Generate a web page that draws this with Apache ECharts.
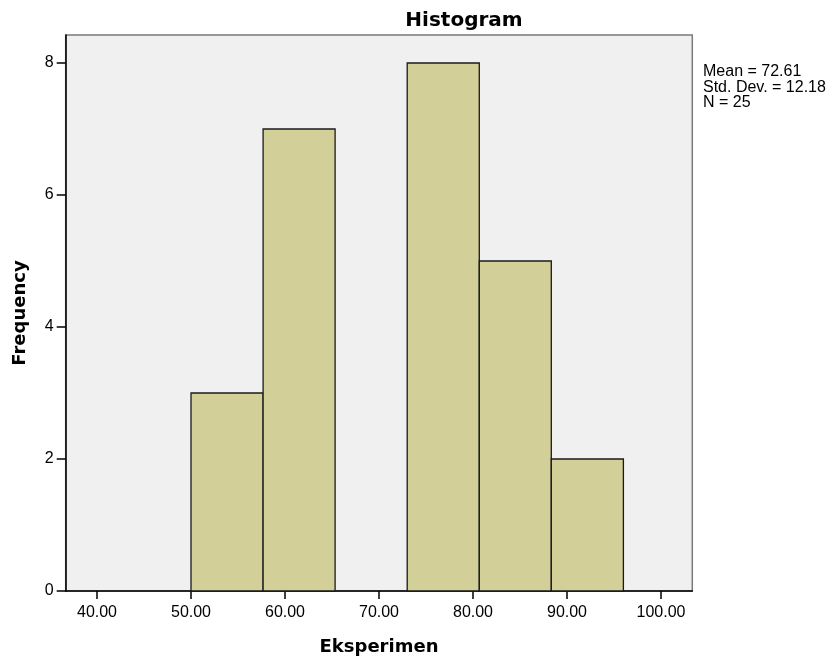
<!DOCTYPE html>
<html>
<head>
<meta charset="utf-8">
<script src="https://cdn.jsdelivr.net/npm/echarts@6/dist/echarts.min.js"></script>
<style>
html,body{margin:0;padding:0;background:#fff;}
#chart{width:834px;height:661px;}
</style>
</head>
<body>
<div id="chart"></div>
<script>
// Histogram data (bins)
const binStarts = [50.00, 57.67, 65.33, 73.00, 80.67, 88.33];
const binEnds   = [57.67, 65.33, 73.00, 80.67, 88.33, 96.00];
const counts    = [3, 7, 0, 8, 5, 2];
const xTickValues = [40, 50, 60, 70, 80, 90, 100];
const yTickValues = [0, 2, 4, 6, 8];
const statsLines = ['Mean = 72.61', 'Std. Dev. = 12.18', 'N = 25'];
const titleText = 'Histogram';
const xName = 'Eksperimen';
const yName = 'Frequency';

const data = binStarts.map((s, i) => [s, binEnds[i], counts[i]]);

const chart = echarts.init(document.getElementById('chart'), null, {renderer: 'canvas'});
chart.setOption({
  animation: false,
  backgroundColor: '#ffffff',
  title: {
    text: titleText,
    left: 459, top: 6, textAlign: 'center',
    textStyle: {fontFamily: 'DejaVu Sans', fontWeight: 'bold', fontSize: 20, color: '#000'}
  },
  grid: {
    left: 65.7, right: 141.7, top: 35, bottom: 64.3,
    show: true, backgroundColor: '#f0f0f0', borderColor: '#7a7a7a', borderWidth: 1.5
  },
  xAxis: {
    type: 'value', min: 36.67, max: 103.33,
    name: xName, nameLocation: 'middle', nameGap: 47,
    nameTextStyle: {fontFamily: 'DejaVu Sans', fontWeight: 'bold', fontSize: 18, color: '#000'},
    axisLine: {show: true, onZero: false, lineStyle: {color: '#000', width: 1.5}},
    axisTick: {show: true, length: 8, customValues: xTickValues, lineStyle: {color: '#000', width: 1.5}},
    axisLabel: {customValues: xTickValues, margin: 14, fontFamily: 'Liberation Sans', fontSize: 16, color: '#000',
      formatter: v => Number(v).toFixed(2)},
    splitLine: {show: false}
  },
  yAxis: {
    type: 'value', min: 0, max: 8.424,
    name: yName, nameLocation: 'middle', nameGap: 36,
    nameTextStyle: {fontFamily: 'DejaVu Sans', fontWeight: 'bold', fontSize: 18, color: '#000'},
    axisLine: {show: true, lineStyle: {color: '#000', width: 1.5}},
    axisTick: {show: true, length: 9, customValues: yTickValues, lineStyle: {color: '#000', width: 1.5}},
    axisLabel: {customValues: yTickValues, margin: 12, fontFamily: 'Liberation Sans', fontSize: 16, color: '#000'},
    splitLine: {show: false}
  },
  graphic: [{
    type: 'text', left: 703, top: 64,
    style: {text: statsLines.join('\n'), fontFamily: 'Liberation Sans', fontSize: 16, lineHeight: 15.5, fill: '#000'}
  }],
  series: [{
    type: 'custom',
    data: data,
    encode: {x: [0, 1], y: 2},
    renderItem: function (params, api) {
      const x0 = api.value(0), x1 = api.value(1), c = api.value(2);
      if (!c) return null;
      const p0 = api.coord([x0, 0]);
      const p1 = api.coord([x1, c]);
      return {
        type: 'rect',
        shape: {x: p0[0], y: p1[1], width: p1[0] - p0[0], height: p0[1] - p1[1]},
        style: {fill: '#d3cf98', stroke: '#1a1a1a', lineWidth: 1.3}
      };
    }
  }]
});
</script>
</body>
</html>
